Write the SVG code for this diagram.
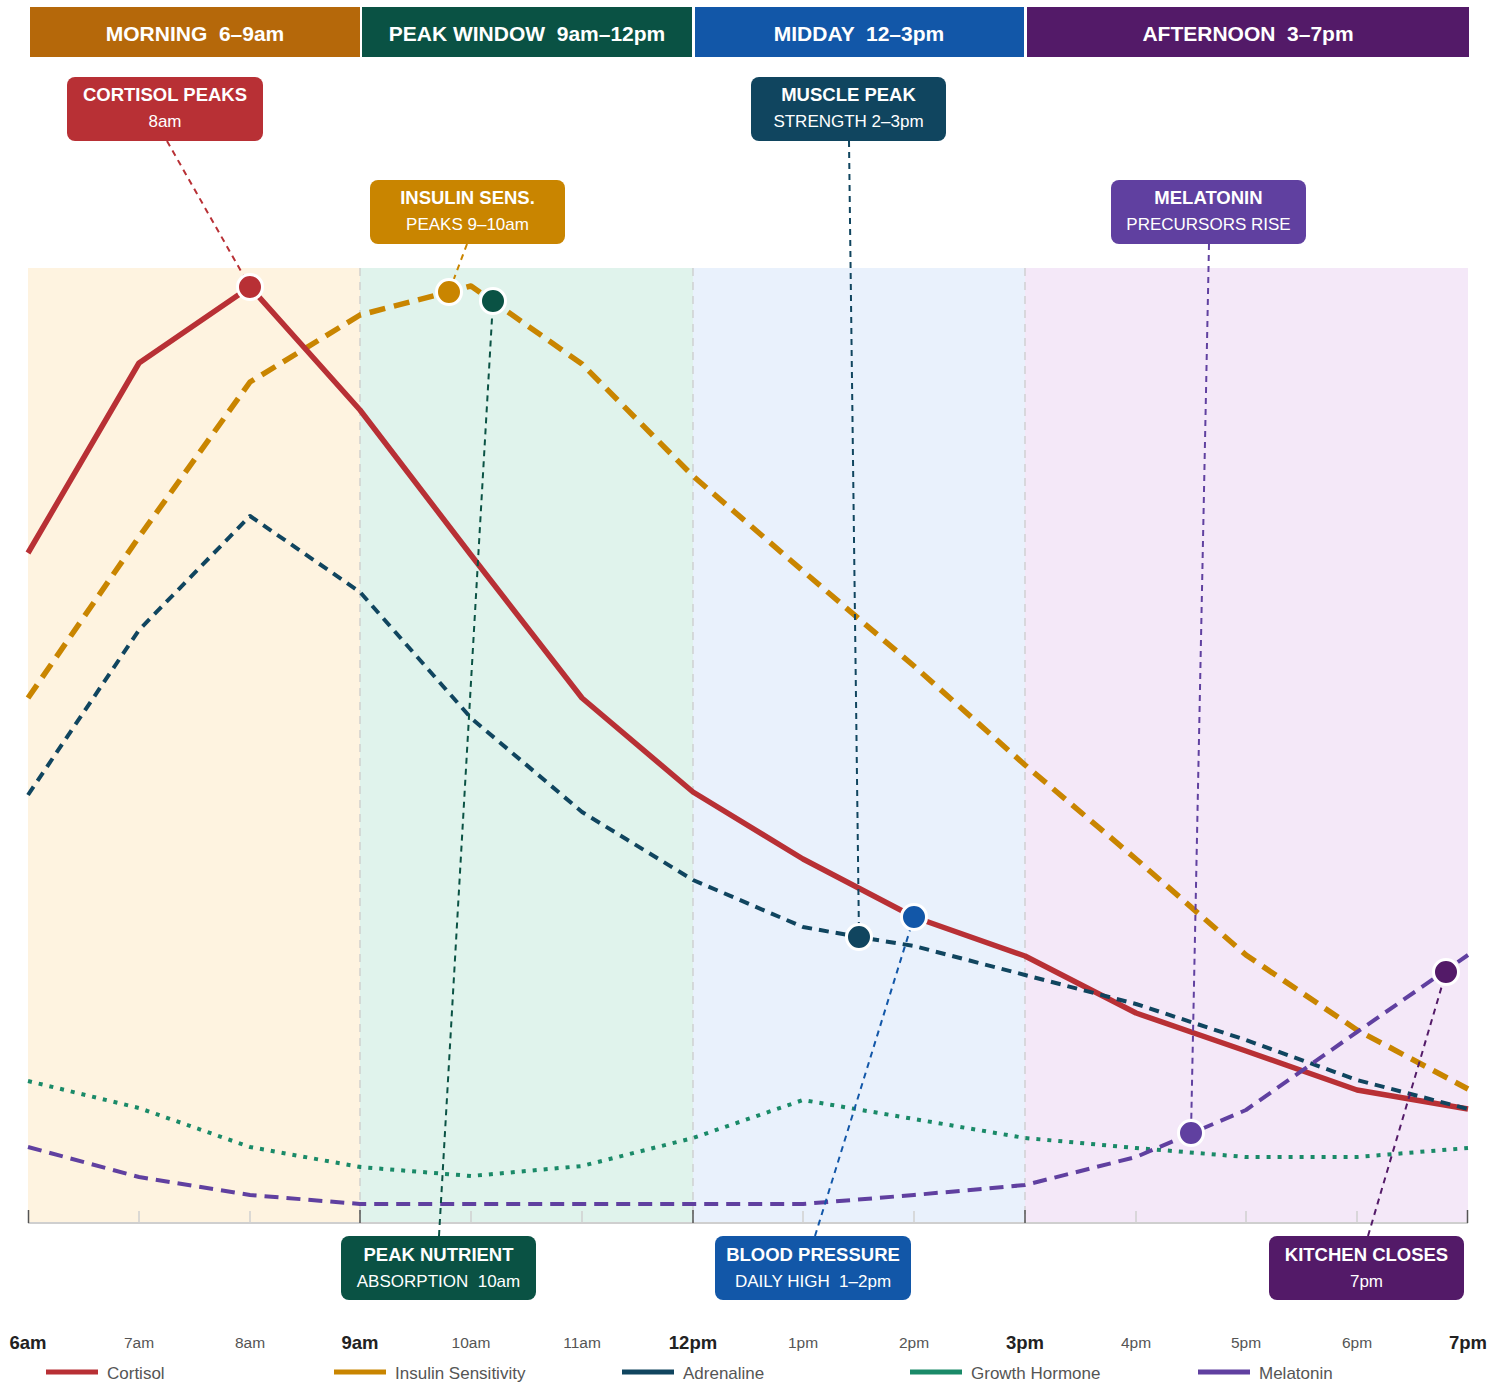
<svg xmlns="http://www.w3.org/2000/svg" width="1503" height="1383" viewBox="0 0 1503 1383">
<style>
text{font-family:"Liberation Sans",Arial,sans-serif;}
.hdr{font-size:21px;font-weight:bold;fill:#fff;text-anchor:middle;white-space:pre;}
.ct{font-size:18.5px;font-weight:bold;fill:#fff;text-anchor:middle;}
.cs{font-size:17px;fill:#fff;text-anchor:middle;white-space:pre;}
.maj{font-size:18.5px;font-weight:bold;fill:#222;text-anchor:middle;}
.min{font-size:15.5px;fill:#555;text-anchor:middle;}
.lg{font-size:17px;fill:#555;}
.ser{fill:none;stroke-linejoin:round;}
.con{fill:none;stroke-width:2;stroke-dasharray:6 5;}
.dot{stroke:#fff;stroke-width:3;}
.div{stroke:#cccccc;stroke-width:1.3;stroke-dasharray:8 6;}
</style>

<g id="plot-bg">
<rect x="28" y="268" width="332" height="955" fill="#FEF3E0"/>
<rect x="360" y="268" width="333" height="955" fill="#E0F3EC"/>
<rect x="693" y="268" width="332" height="955" fill="#E9F1FC"/>
<rect x="1025" y="268" width="443" height="955" fill="#F4E8F8"/>
<line class="div" x1="360" y1="268" x2="360" y2="1222"/>
<line class="div" x1="693" y1="268" x2="693" y2="1222"/>
<line class="div" x1="1025" y1="268" x2="1025" y2="1222"/>
</g>

<g id="header">
<g id="band-morning"><rect x="30" y="7" width="330" height="50" fill="#B5680A"/><text class="hdr" x="195" y="41">MORNING  6–9am</text></g>
<g id="band-peak"><rect x="362" y="7" width="330" height="50" fill="#0A5244"/><text class="hdr" x="527" y="41">PEAK WINDOW  9am–12pm</text></g>
<g id="band-midday"><rect x="695" y="7" width="329" height="50" fill="#1257A8"/><text class="hdr" x="859" y="41">MIDDAY  12–3pm</text></g>
<g id="band-afternoon"><rect x="1027" y="7" width="442" height="50" fill="#531A68"/><text class="hdr" x="1248" y="41">AFTERNOON  3–7pm</text></g>
</g>

<g id="axis">
<line x1="28" y1="1223" x2="1468" y2="1223" stroke="#cfcfcf" stroke-width="2"/>
<g stroke="#d0d0d0" stroke-width="1.5">
<line x1="139" y1="1211" x2="139" y2="1223"/><line x1="250" y1="1211" x2="250" y2="1223"/>
<line x1="471" y1="1211" x2="471" y2="1223"/><line x1="582" y1="1211" x2="582" y2="1223"/>
<line x1="803" y1="1211" x2="803" y2="1223"/><line x1="914" y1="1211" x2="914" y2="1223"/>
<line x1="1136" y1="1211" x2="1136" y2="1223"/><line x1="1246" y1="1211" x2="1246" y2="1223"/><line x1="1357" y1="1211" x2="1357" y2="1223"/>
</g>
<g stroke="#555" stroke-width="1.5">
<line x1="28.5" y1="1210" x2="28.5" y2="1223"/><line x1="360" y1="1210" x2="360" y2="1223"/>
<line x1="693" y1="1210" x2="693" y2="1223"/><line x1="1025" y1="1210" x2="1025" y2="1223"/><line x1="1467.5" y1="1210" x2="1467.5" y2="1223"/>
</g>
<text class="maj" x="28" y="1349">6am</text>
<text class="min" x="139" y="1348">7am</text>
<text class="min" x="250" y="1348">8am</text>
<text class="maj" x="360" y="1349">9am</text>
<text class="min" x="471" y="1348">10am</text>
<text class="min" x="582" y="1348">11am</text>
<text class="maj" x="693" y="1349">12pm</text>
<text class="min" x="803" y="1348">1pm</text>
<text class="min" x="914" y="1348">2pm</text>
<text class="maj" x="1025" y="1349">3pm</text>
<text class="min" x="1136" y="1348">4pm</text>
<text class="min" x="1246" y="1348">5pm</text>
<text class="min" x="1357" y="1348">6pm</text>
<text class="maj" x="1468" y="1349">7pm</text>
</g>

<g id="series">
<polyline id="insulin" class="ser" stroke="#C98500" stroke-width="5.5" stroke-dasharray="16 9" points="28,698 139,537 250,382 360,315 471,286 582,364 693,476 803,571 914,666 1025,765 1136,859 1246,955 1357,1030 1468,1089"/>
<polyline id="cortisol" class="ser" stroke="#B83035" stroke-width="5.5" points="28,553 139,363 250,287 360,410 471,555 582,698 693,792 803,859 914,917 1025,956 1136,1013 1246,1051 1357,1090 1468,1109"/>
<polyline id="adrenaline" class="ser" stroke="#10455F" stroke-width="4" stroke-dasharray="10 7" points="28,795 139,630 250,516 360,592 471,718 582,812 693,880 803,927 859,937 914,946 1025,975 1136,1004 1246,1040 1357,1080 1468,1109"/>
<polyline id="growth" class="ser" stroke="#1A8A68" stroke-width="4" stroke-dasharray="4 7" points="28,1081 139,1108 250,1147 360,1167 471,1176 582,1166 693,1138 803,1100 914,1119 1025,1138 1136,1148 1246,1157 1357,1157 1468,1148"/>
<polyline id="melatonin" class="ser" stroke="#6040A0" stroke-width="4" stroke-dasharray="14 8" points="28,1147 139,1177 250,1195 360,1204 471,1204 582,1204 693,1204 803,1204 914,1195 1025,1185 1136,1157 1246,1110 1357,1032 1468,955"/>
</g>

<g id="connectors">
<line class="con" stroke="#B83035" x1="167" y1="141" x2="250" y2="287"/>
<line class="con" stroke="#C98500" x1="467" y1="244" x2="449" y2="292"/>
<line class="con" stroke="#10455F" x1="849" y1="141" x2="859" y2="937"/>
<line class="con" stroke="#6040A0" x1="1209" y1="244" x2="1191" y2="1133"/>
<line class="con" stroke="#0A5244" x1="439" y1="1236" x2="493" y2="301"/>
<line class="con" stroke="#1257A8" x1="815" y1="1236" x2="914" y2="917"/>
<line class="con" stroke="#531A68" x1="1368" y1="1236" x2="1446" y2="972"/>
</g>

<g id="markers">
<circle class="dot" cx="250" cy="287" r="12.5" fill="#B83035"/>
<circle class="dot" cx="449" cy="292" r="12.5" fill="#C98500"/>
<circle class="dot" cx="493" cy="301" r="12.5" fill="#0A5244"/>
<circle class="dot" cx="859" cy="937" r="12.5" fill="#10455F"/>
<circle class="dot" cx="914" cy="917" r="12.5" fill="#1257A8"/>
<circle class="dot" cx="1191" cy="1133" r="12.5" fill="#6040A0"/>
<circle class="dot" cx="1446" cy="972" r="12.5" fill="#531A68"/>
</g>

<g id="callout-cortisol"><rect x="67" y="77" width="196" height="64" rx="8" fill="#B83035"/><text class="ct" x="165" y="101">CORTISOL PEAKS</text><text class="cs" x="165" y="127">8am</text></g>
<g id="callout-insulin"><rect x="370" y="180" width="195" height="64" rx="8" fill="#C98500"/><text class="ct" x="467.5" y="204">INSULIN SENS.</text><text class="cs" x="467.5" y="230">PEAKS 9–10am</text></g>
<g id="callout-muscle"><rect x="751" y="77" width="195" height="64" rx="8" fill="#10455F"/><text class="ct" x="848.5" y="101">MUSCLE PEAK</text><text class="cs" x="848.5" y="127">STRENGTH 2–3pm</text></g>
<g id="callout-melatonin"><rect x="1111" y="180" width="195" height="64" rx="8" fill="#6040A0"/><text class="ct" x="1208.5" y="204">MELATONIN</text><text class="cs" x="1208.5" y="230">PRECURSORS RISE</text></g>
<g id="callout-nutrient"><rect x="341" y="1236" width="195" height="64" rx="8" fill="#0A5244"/><text class="ct" x="438.5" y="1261">PEAK NUTRIENT</text><text class="cs" x="438.5" y="1287">ABSORPTION  10am</text></g>
<g id="callout-bp"><rect x="715" y="1236" width="196" height="64" rx="8" fill="#1257A8"/><text class="ct" x="813" y="1261">BLOOD PRESSURE</text><text class="cs" x="813" y="1287">DAILY HIGH  1–2pm</text></g>
<g id="callout-kitchen"><rect x="1269" y="1236" width="195" height="64" rx="8" fill="#531A68"/><text class="ct" x="1366.5" y="1261">KITCHEN CLOSES</text><text class="cs" x="1366.5" y="1287">7pm</text></g>

<g id="legend">
<line x1="46" y1="1372" x2="98" y2="1372" stroke="#B83035" stroke-width="5"/><text class="lg" x="107" y="1379">Cortisol</text>
<line x1="334" y1="1372" x2="386" y2="1372" stroke="#C98500" stroke-width="5"/><text class="lg" x="395" y="1379">Insulin Sensitivity</text>
<line x1="622" y1="1372" x2="674" y2="1372" stroke="#10455F" stroke-width="5"/><text class="lg" x="683" y="1379">Adrenaline</text>
<line x1="910" y1="1372" x2="962" y2="1372" stroke="#1A8A68" stroke-width="5"/><text class="lg" x="971" y="1379">Growth Hormone</text>
<line x1="1198" y1="1372" x2="1250" y2="1372" stroke="#6040A0" stroke-width="5"/><text class="lg" x="1259" y="1379">Melatonin</text>
</g>
</svg>
